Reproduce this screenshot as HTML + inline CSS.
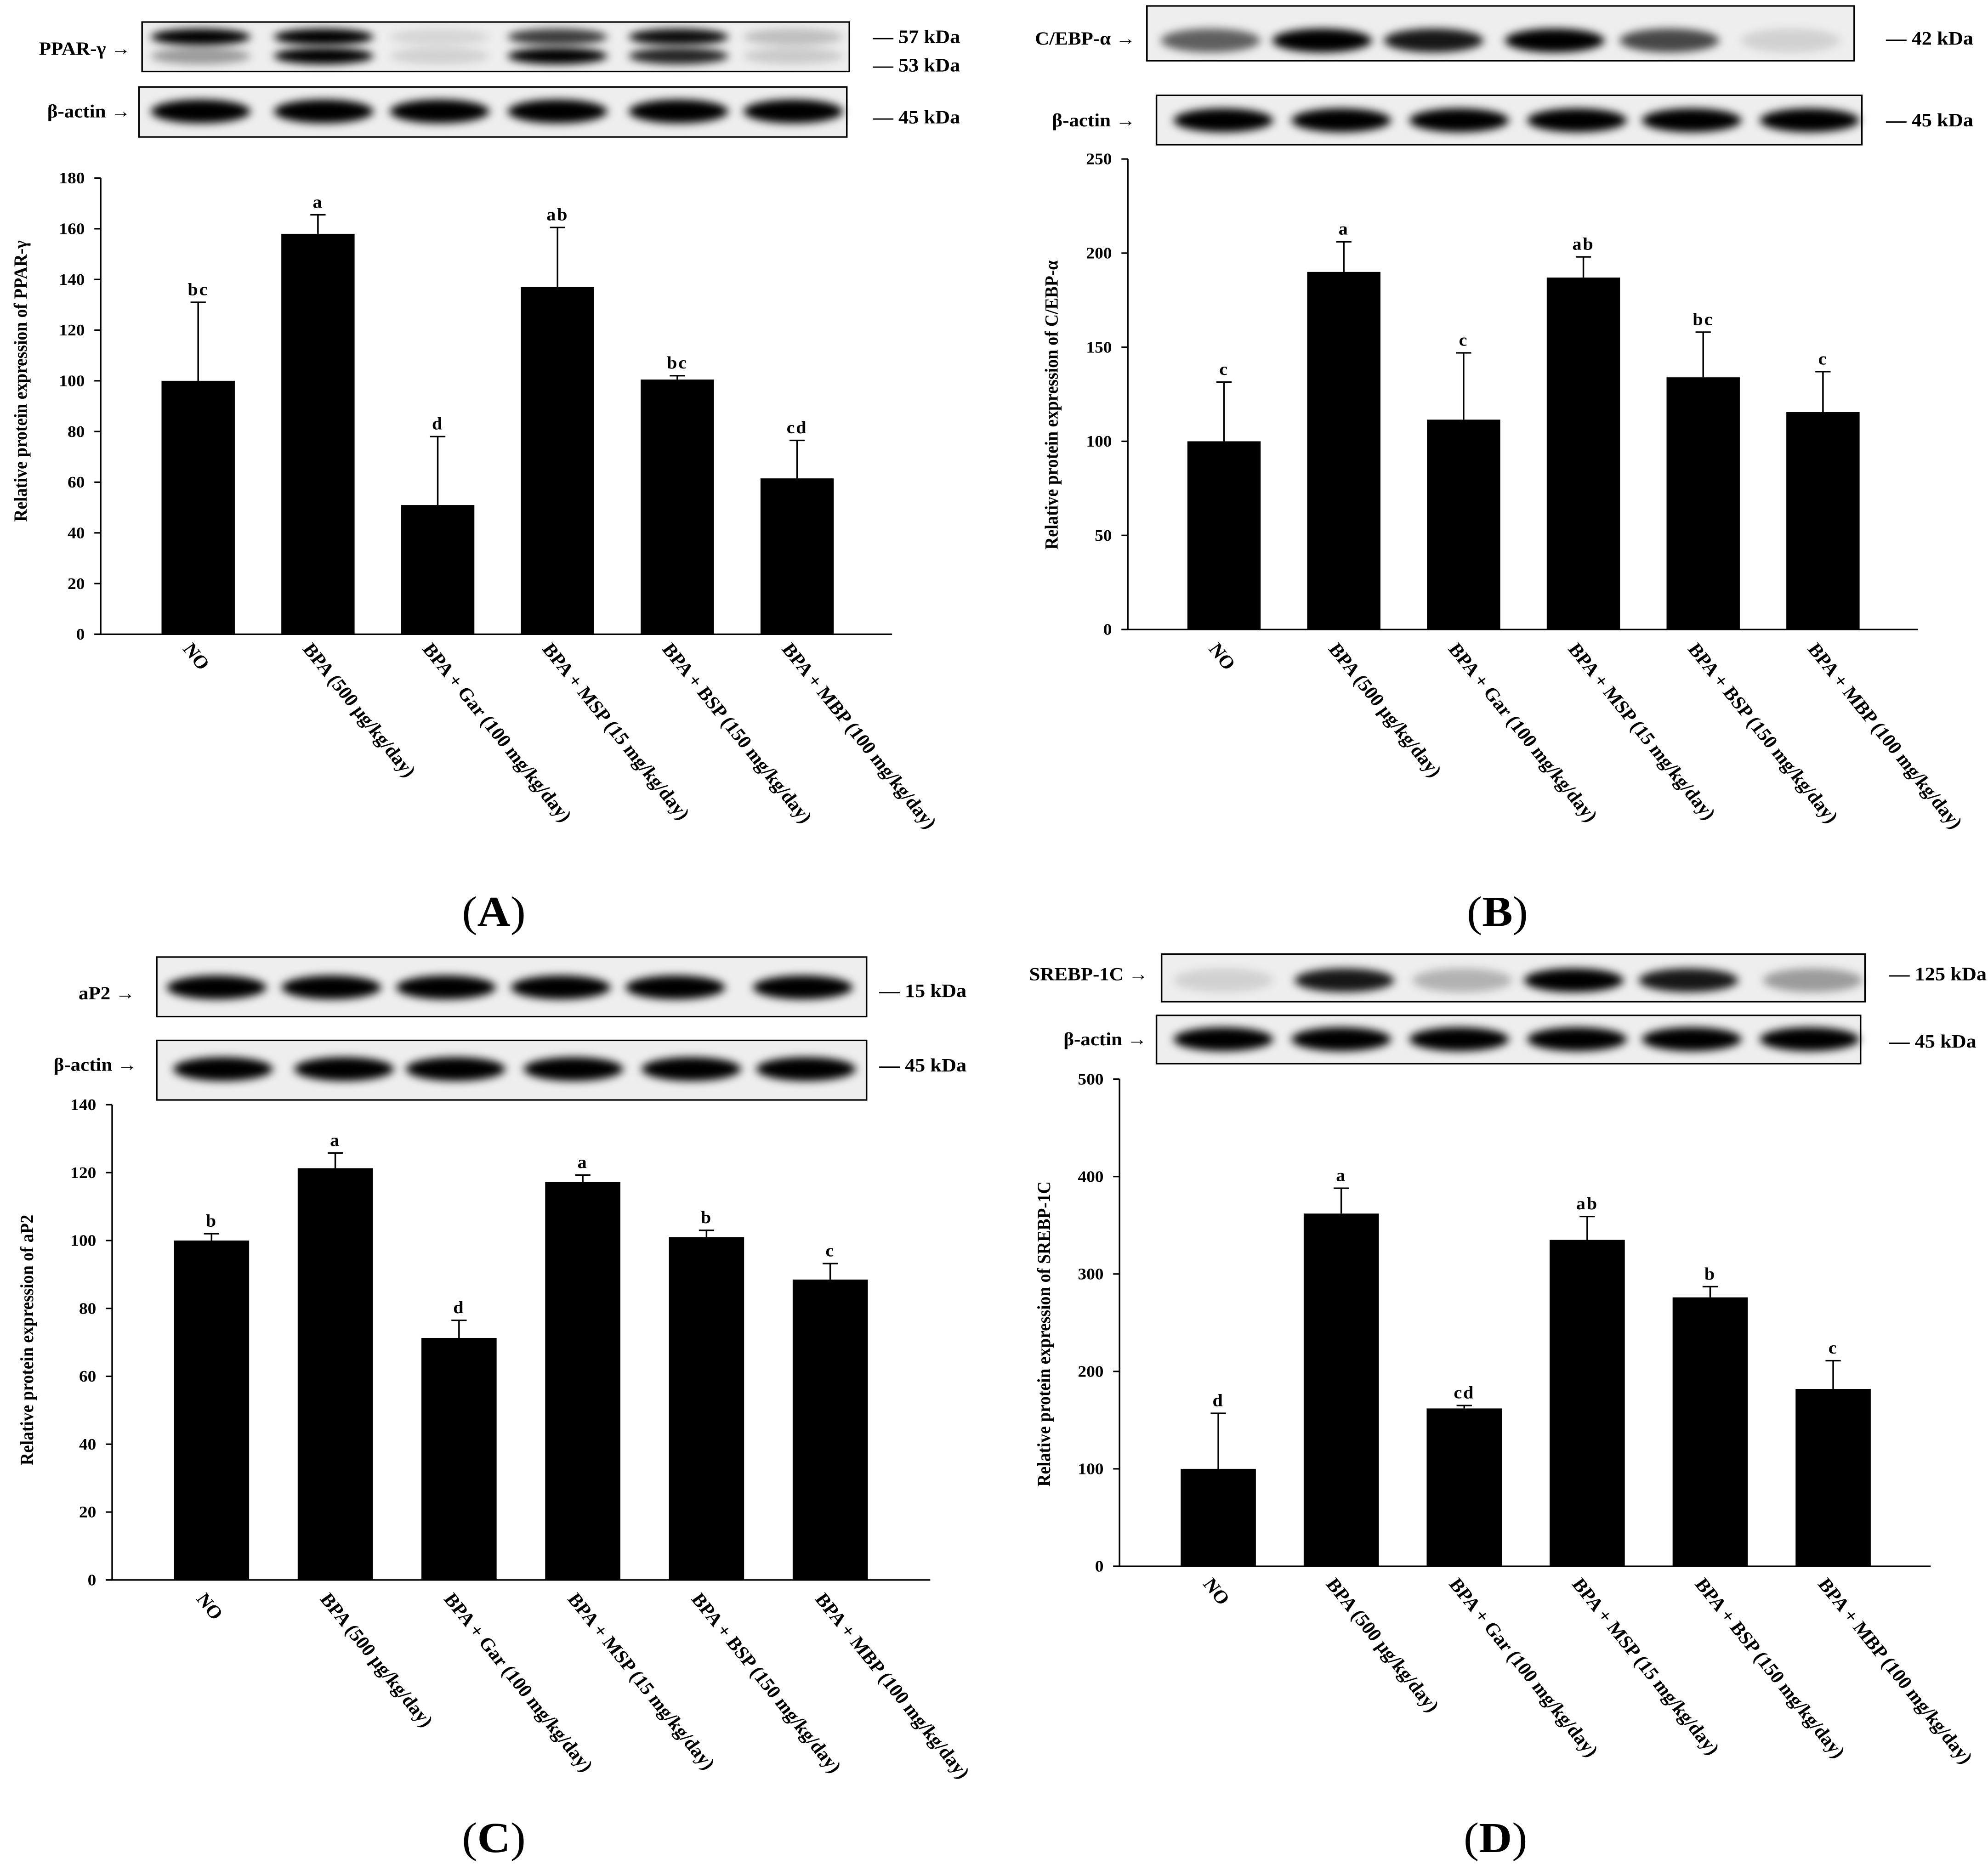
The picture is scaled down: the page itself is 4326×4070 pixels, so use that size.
<!DOCTYPE html>
<html><head><meta charset="utf-8"><style>
html,body{margin:0;padding:0;background:#fff}
svg{display:block}
text{font-family:"Liberation Serif",serif;font-weight:bold;fill:#000}
</style></head><body>
<svg id="fig" width="4326" height="4070" viewBox="0 0 4326 4070" xmlns="http://www.w3.org/2000/svg">
<defs><filter id="blur" x="-30%" y="-60%" width="160%" height="220%"><feGaussianBlur stdDeviation="7"/></filter></defs>
</svg>
<script>
const categories = ["NO","BPA (500 μg/kg/day)","BPA + Gar (100 mg/kg/day)","BPA + MSP (15 mg/kg/day)","BPA + BSP (150 mg/kg/day)","BPA + MBP (100 mg/kg/day)"];
const valuesA = [100,158,51,137,100.5,61.5];
const errorsA = [131,165.5,78,160.5,102,76.5];
const lettersA = ["bc","a","d","ab","bc","cd"];
const ticksA = [0,20,40,60,80,100,120,140,160,180];
const valuesB = [100,190,111.5,187,134,115.5];
const errorsB = [131.5,206,147,198,158,137];
const lettersB = ["c","a","c","ab","bc","c"];
const ticksB = [0,50,100,150,200,250];
const valuesC = [100,121.3,71.3,117.2,101,88.5];
const errorsC = [102,125.8,76.5,119.3,103,93.2];
const lettersC = ["b","a","d","a","b","c"];
const ticksC = [0,20,40,60,80,100,120,140];
const valuesD = [100,362,162,335,276,182];
const errorsD = [157,388,165,359,287,211];
const lettersD = ["d","a","cd","ab","b","c"];
const ticksD = [0,100,200,300,400,500];

const NS="http://www.w3.org/2000/svg";
const fig=document.getElementById('fig');
function mk(tag,attrs,parent){const e=document.createElementNS(NS,tag);for(const k in attrs)e.setAttribute(k,attrs[k]);parent.appendChild(e);return e;}

const panels=[
 {id:'a',ox:0,oy:0,vals:valuesA,errs:errorsA,lets:lettersA,ticks:ticksA,axX:158,y0:1065,yTop:299,xEnd:1400,centers0:311,step:188,bw:115,
  title:"Relative protein expression of PPAR-γ",titleX:42,titleY:640,lab:"A",labX:775,labY:1555,xlabY:1090,
  blots:[{x:223,y:37,w:1110,h:83,label:"PPAR-γ →",lx:205,ly:92,rows:[{y:62,int:[1,1,0.1,0.75,0.95,0.2]},{y:94,int:[0.35,1,0.12,1,0.85,0.15]}],lanes:[315,508,690,875,1065,1245],kda:[["— 57 kDa",72],["— 53 kDa",120]],kx:1370},
         {x:218,y:146,w:1111,h:84,label:"β-actin →",lx:205,ly:197,rows:[{y:187,int:[1,1,1,1,1,1]}],lanes:[315,508,690,875,1065,1245],kda:[["— 45 kDa",207]],kx:1370}]},
 {id:'b',ox:2163,oy:0,vals:valuesB,errs:errorsB,lets:lettersB,ticks:ticksB,axX:210,y0:1057,yTop:267,xEnd:1450,centers0:361,step:188,bw:115,
  title:"Relative protein expression of C/EBP-α",titleX:100,titleY:680,lab:"B",labX:790,labY:1555,xlabY:1090,
  blots:[{x:240,y:10,w:1110,h:92,label:"C/EBP-α →",lx:222,ly:75,rows:[{y:68,int:[0.6,1,0.9,1,0.7,0.12]}],lanes:[340,515,690,880,1060,1250],kda:[["— 42 kDa",75]],kx:1400},
         {x:255,y:160,w:1107,h:83,label:"β-actin →",lx:222,ly:212,rows:[{y:202,int:[1,1,1,1,1,1]}],lanes:[360,545,730,915,1095,1280],kda:[["— 45 kDa",212]],kx:1400}]},
 {id:'c',ox:0,oy:2035,vals:valuesC,errs:errorsC,lets:lettersC,ticks:ticksC,axX:176,y0:1083,yTop:285,xEnd:1460,centers0:332,step:194.2,bw:118,
  title:"Relative protein expression of aP2",titleX:52,titleY:680,lab:"C",labX:775,labY:1540,xlabY:1115,
  blots:[{x:246,y:37,w:1114,h:100,label:"aP2 →",lx:212,ly:108,rows:[{y:88,int:[1,1,1,1,1,1]}],lanes:[340,520,700,880,1060,1260],kda:[["— 15 kDa",104]],kx:1380},
         {x:246,y:177,w:1114,h:100,label:"β-actin →",lx:215,ly:228,rows:[{y:225,int:[1,1,1,1,1,1]}],lanes:[350,540,715,900,1085,1265],kda:[["— 45 kDa",229]],kx:1380}]},
 {id:'d',ox:2163,oy:2035,vals:valuesD,errs:errorsD,lets:lettersD,ticks:ticksD,axX:197,y0:1060,yTop:242,xEnd:1470,centers0:352,step:193,bw:118,
  title:"Relative protein expression of SREBP-1C",titleX:88,titleY:670,lab:"D",labX:787,labY:1540,xlabY:1090,
  blots:[{x:263,y:32,w:1104,h:80,label:"SREBP-1C →",lx:242,ly:76,rows:[{y:76,int:[0.12,0.9,0.25,1,0.9,0.35]}],lanes:[360,550,735,910,1090,1285],kda:[["— 125 kDa",76]],kx:1405},
         {x:255,y:135,w:1105,h:81,label:"β-actin →",lx:240,ly:185,rows:[{y:175,int:[1,1,1,1,1,1]}],lanes:[360,545,730,915,1095,1280],kda:[["— 45 kDa",189]],kx:1405}]}
];

const SX=2163/1560, SY=2035/1570;
panels.forEach(p=>{
  const g=mk('g',{transform:`translate(${p.ox},${p.oy}) scale(${SX},${SY})`},fig);
  
  
  p.blots.forEach((b,bi)=>{
    const bg=mk('g',{},g);
    
    
    mk('rect',{x:b.x,y:b.y,width:b.w,height:b.h,fill:'#eeeeee',stroke:'#000','stroke-width':2.5},bg);
    b.rows.forEach(r=>{r.int.forEach((v,i)=>{
      const band=mk('ellipse',{cx:b.lanes[i],cy:r.y,rx:78,ry:b.rows.length>1?14:20,fill:'#000','fill-opacity':v,filter:'url(#blur)'},bg);
      
      
    });});
    const t=mk('text',{x:b.lx,y:b.ly,'font-size':31,'text-anchor':'end'},bg);t.textContent=b.label;
    
    
    b.kda.forEach(k=>{const kt=mk('text',{x:b.kx,y:k[1],'font-size':32},bg);kt.textContent=k[0];
      
      });
  });
  const ymax=p.ticks[p.ticks.length-1];
  const ys=v=>p.y0-(v/ymax)*(p.y0-p.yTop);
  const xc=i=>p.centers0+i*p.step;
  const ax=mk('g',{},g);
  
  
  mk('line',{x1:p.axX,y1:p.yTop,x2:p.axX,y2:p.y0,stroke:'#000','stroke-width':2.5},ax);
  mk('line',{x1:p.axX-10,y1:p.y0,x2:p.xEnd,y2:p.y0,stroke:'#000','stroke-width':2.5},ax);
  p.ticks.forEach(tv=>{
    mk('line',{x1:p.axX-10,y1:ys(tv),x2:p.axX,y2:ys(tv),stroke:'#000','stroke-width':2.5},ax);
    const tl=mk('text',{x:p.axX-25,y:ys(tv)+9,'font-size':27,'text-anchor':'end'},ax);tl.textContent=tv;
    
    
  });
  const yt=mk('text',{x:0,y:0,'font-size':29,'text-anchor':'middle',transform:`translate(${p.titleX},${p.titleY}) rotate(-90)`},g);
  yt.textContent=p.title;
  
  
  p.vals.forEach((v,i)=>{
    const c=xc(i);
    const bar=mk('rect',{x:c-p.bw/2,y:ys(v),width:p.bw,height:p.y0-ys(v),fill:'#000'},g);
    
    
    const e=p.errs[i];
    const eb=mk('path',{d:`M${c},${ys(v)}V${ys(e)}M${c-12},${ys(e)}H${c+12}`,stroke:'#000','stroke-width':2.5,fill:'none'},g);
    
    
    const lt=mk('text',{x:c,y:ys(e)-12,'font-size':29,'text-anchor':'middle','letter-spacing':2},g);lt.textContent=p.lets[i];
    
    
    const xl=mk('text',{x:0,y:0,'font-size':31,transform:`translate(${c-25},${p.xlabY}) rotate(53)`},g);xl.textContent=categories[i];
    
    
  });
  const pl=mk('text',{x:p.labX,y:p.labY,'font-size':72,'text-anchor':'middle'},g);
  pl.innerHTML=`(<tspan font-weight="bold">${p.lab}</tspan>)`;
  pl.style.fontWeight='normal';
  
  
});
</script>
</body></html>
